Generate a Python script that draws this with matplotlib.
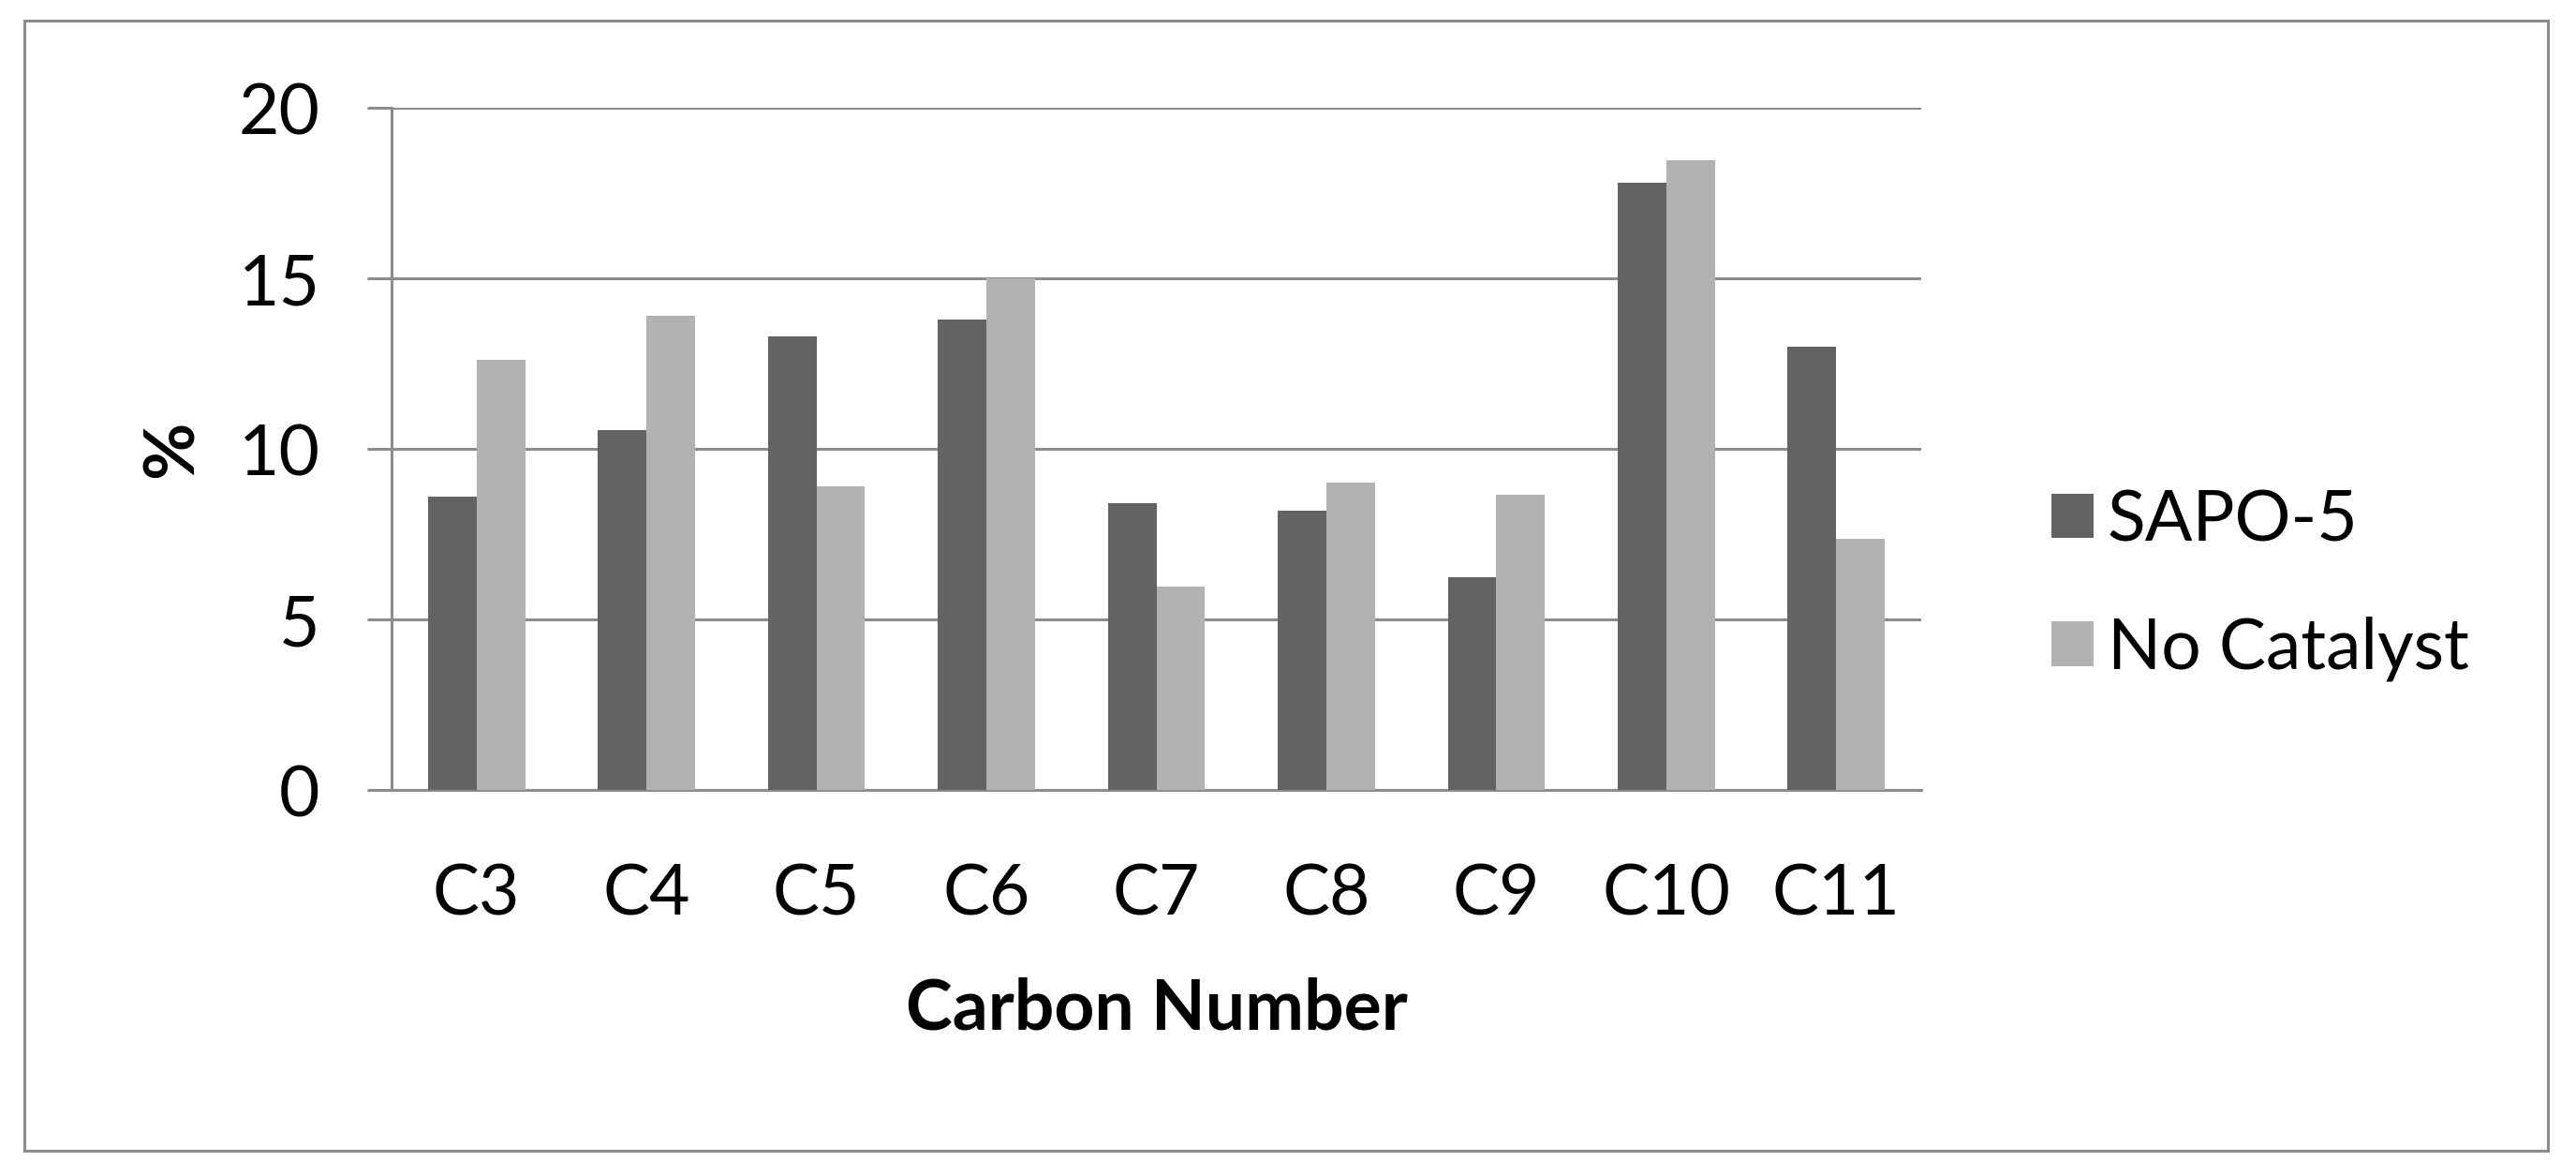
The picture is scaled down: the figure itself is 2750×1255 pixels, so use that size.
import numpy as np
import matplotlib
matplotlib.use('Agg')
import matplotlib.pyplot as plt
from matplotlib.patches import Rectangle

categories = ['C3', 'C4', 'C5', 'C6', 'C7', 'C8', 'C9', 'C10', 'C11']
sapo5 = [8.6, 10.55, 13.3, 13.8, 8.4, 8.2, 6.25, 17.8, 13.0]
no_catalyst = [12.6, 13.9, 8.9, 15.0, 5.95, 9.0, 8.65, 18.45, 7.35]
series_names = ['SAPO-5', 'No Catalyst']
yticks = [0, 5, 10, 15, 20]

dark = '#636363'
light = '#b2b2b2'
grid = '#8c8c8c'

plt.rcParams['font.family'] = ['Lato', 'DejaVu Sans']
fs = 54

W, H = 2750, 1255
fig = plt.figure(figsize=(W/100, H/100), dpi=100)
left, right, top, bottom = 418, 2051, 115, 843
ax = fig.add_axes([left/W, 1-bottom/H, (right-left)/W, (bottom-top)/H])

x = np.arange(len(categories))
w = 1/3.5
b1 = ax.bar(x - w/2, sapo5, w, color=dark, label=series_names[0], zorder=3)
b2 = ax.bar(x + w/2, no_catalyst, w, color=light, label=series_names[1], zorder=3)

ax.set_xlim(-0.5, len(categories)-0.5)
ax.set_ylim(0, 20)
ax.set_yticks(yticks)
ax.set_xticks(x)
ax.set_xticklabels(categories)
ax.yaxis.grid(True, color=grid, lw=2.2, zorder=0)
for s in ['top', 'right']:
    ax.spines[s].set_visible(False)
for s in ['left', 'bottom']:
    ax.spines[s].set_color(grid)
    ax.spines[s].set_linewidth(2.2)
ax.tick_params(axis='y', length=19, width=2.2, color=grid, pad=36, labelsize=fs)
ax.tick_params(axis='x', length=0, pad=56, labelsize=fs)
ax.set_xlabel('Carbon Number', fontsize=fs, fontweight='bold', labelpad=38)
ax.set_ylabel('%', fontsize=fs, fontweight='bold', labelpad=26)

fig.legend(handles=[b1, b2], loc='center left', bbox_to_anchor=(2160/W, 1-624/H),
           frameon=False, fontsize=fs, handlelength=0.6, handleheight=0.6,
           handletextpad=0.2, labelspacing=0.9, borderaxespad=0)

fig.patches.append(Rectangle((26/W, 1-1228/H), (2720-26)/W, (1228-22)/H,
                             transform=fig.transFigure, fill=False, ec=grid, lw=2.2))

fig.savefig('out.png', dpi=100, facecolor='white')
